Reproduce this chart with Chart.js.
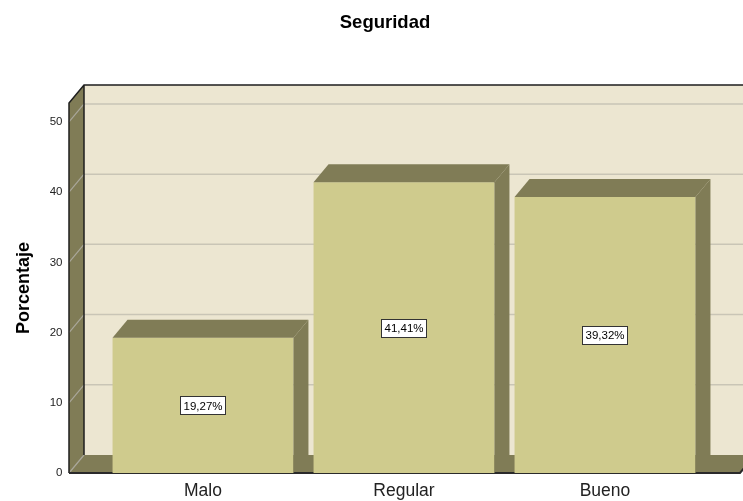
<!DOCTYPE html>
<html>
<head>
<meta charset="utf-8">
<script src="https://cdn.jsdelivr.net/npm/chart.js@4/dist/chart.umd.min.js"></script>
<style>
html,body{margin:0;padding:0;background:#ffffff;}
#wrap{width:743px;height:501px;position:relative;}
canvas{display:block;}
</style>
</head>
<body>
<div id="wrap"><canvas id="c" width="743" height="501"></canvas></div>
<script>
const categories = ['Malo', 'Regular', 'Bueno'];
const percentages = [19.27, 41.41, 39.32];
const valueLabels = ['19,27%', '41,41%', '39,32%'];
const yTickValues = [0, 10, 20, 30, 40, 50];
const chartTitle = 'Seguridad';
const yAxisTitle = 'Porcentaje';

const FONT = "'Liberation Sans', Arial, Helvetica, sans-serif";
const COL_WALL = '#ECE6D1';
const COL_DARK = '#807C56';
const COL_BAR = '#CFCB8D';
const COL_GRID = '#C9C5B6';
const DX = 15, DY = -18;
const SIDE_MARGIN = 33.5;

Chart.defaults.font.family = FONT;

const box3d = {
  id: 'box3d',
  beforeDatasetsDraw(chart) {
    const ctx = chart.ctx;
    const a = chart.chartArea;
    const ys = chart.scales.y;
    const L = a.left - SIDE_MARGIN;
    const R = a.right + SIDE_MARGIN + 1;
    const W = chart.width + 30;
    const top = a.top, bot = a.bottom;
    ctx.save();
    ctx.fillStyle = COL_WALL;
    ctx.fillRect(L + DX, top + DY, W - (L + DX), bot - top);
    ctx.strokeStyle = COL_GRID;
    ctx.lineWidth = 1.5;
    yTickValues.forEach(v => {
      if (v === 0) return;
      const y = ys.getPixelForValue(v) + DY;
      ctx.beginPath();
      ctx.moveTo(L + DX, y);
      ctx.lineTo(W, y);
      ctx.stroke();
    });
    ctx.fillStyle = COL_DARK;
    ctx.beginPath();
    ctx.moveTo(L, top);
    ctx.lineTo(L + DX, top + DY);
    ctx.lineTo(L + DX, bot + DY);
    ctx.lineTo(L, bot);
    ctx.closePath();
    ctx.fill();
    ctx.beginPath();
    ctx.moveTo(L, bot);
    ctx.lineTo(L + DX, bot + DY);
    ctx.lineTo(R + DX, bot + DY);
    ctx.lineTo(R, bot);
    ctx.closePath();
    ctx.fill();
    ctx.strokeStyle = '#A9A79A';
    ctx.lineWidth = 1.2;
    yTickValues.forEach(v => {
      const y = ys.getPixelForValue(v);
      ctx.beginPath();
      ctx.moveTo(L, y);
      ctx.lineTo(L + DX, y + DY);
      ctx.stroke();
    });
    ctx.strokeStyle = '#1E1E1E';
    ctx.lineWidth = 1.5;
    ctx.beginPath();
    ctx.moveTo(L, bot);
    ctx.lineTo(L, top);
    ctx.lineTo(L + DX, top + DY);
    ctx.lineTo(W, top + DY);
    ctx.moveTo(L + DX, top + DY);
    ctx.lineTo(L + DX, bot + DY);
    ctx.stroke();
    ctx.lineWidth = 2;
    ctx.strokeStyle = '#2A2A2A';
    ctx.beginPath();
    ctx.moveTo(L, bot);
    ctx.lineTo(R, bot);
    ctx.lineTo(R + DX, bot + DY);
    ctx.stroke();
    ctx.restore();
  },
  afterDatasetsDraw(chart) {
    const ctx = chart.ctx;
    const meta = chart.getDatasetMeta(0);
    ctx.save();
    meta.data.forEach((bar, i) => {
      const p = bar.getProps(['x', 'y', 'base', 'width'], true);
      const l = p.x - p.width / 2, r = p.x + p.width / 2;
      ctx.fillStyle = COL_DARK;
      ctx.beginPath();
      ctx.moveTo(l, p.y);
      ctx.lineTo(l + DX, p.y + DY);
      ctx.lineTo(r + DX, p.y + DY);
      ctx.lineTo(r, p.y);
      ctx.closePath();
      ctx.fill();
      ctx.beginPath();
      ctx.moveTo(r, p.y);
      ctx.lineTo(r + DX, p.y + DY);
      ctx.lineTo(r + DX, p.base + DY);
      ctx.lineTo(r, p.base);
      ctx.closePath();
      ctx.fill();
      const txt = valueLabels[i];
      ctx.font = '11.5px ' + FONT;
      const tw = ctx.measureText(txt).width;
      const cx = p.x, cy = (p.y + p.base) / 2;
      const bw = tw + 6, bh = 18;
      ctx.fillStyle = '#FFFFFF';
      ctx.fillRect(Math.round(cx - bw / 2) + 0.5, Math.round(cy - bh / 2) + 0.5, Math.round(bw), bh);
      ctx.strokeStyle = '#333333';
      ctx.lineWidth = 1;
      ctx.strokeRect(Math.round(cx - bw / 2) + 0.5, Math.round(cy - bh / 2) + 0.5, Math.round(bw), bh);
      ctx.fillStyle = '#000000';
      ctx.textAlign = 'center';
      ctx.textBaseline = 'middle';
      ctx.fillText(txt, cx, cy + 1);
    });
    ctx.restore();
  },
  afterDraw(chart) {
    const ctx = chart.ctx;
    ctx.save();
    ctx.font = 'bold 18.5px ' + FONT;
    ctx.fillStyle = '#000000';
    ctx.textAlign = 'center';
    ctx.textBaseline = 'middle';
    ctx.fillText(chartTitle, 385, 23);
    ctx.restore();
  }
};

new Chart(document.getElementById('c'), {
  type: 'bar',
  data: {
    labels: categories,
    datasets: [{
      data: percentages,
      backgroundColor: COL_BAR,
      borderWidth: 0,
      barPercentage: 0.9,
      categoryPercentage: 1.0
    }]
  },
  options: {
    responsive: false,
    animation: false,
    devicePixelRatio: 1,
    layout: { padding: { top: 103, right: 37.5, bottom: 0, left: 0 } },
    plugins: { legend: { display: false }, tooltip: { enabled: false }, title: { display: false } },
    scales: {
      x: {
        grid: { display: false, drawTicks: false },
        border: { display: false },
        ticks: { font: { size: 17.5 }, color: '#222222', padding: 8, maxRotation: 0 },
        afterFit(scale) { scale.height = 28; }
      },
      y: {
        min: 0,
        max: 52.7,
        grid: { display: false, drawTicks: false },
        border: { display: false },
        ticks: { stepSize: 10, includeBounds: false, font: { size: 11.5 }, color: '#222222', padding: 40 },
        title: { display: true, text: yAxisTitle, font: { size: 18, weight: 'bold' }, color: '#000000', padding: { top: 13, bottom: 0 } },
        afterFit(scale) {
          scale.width = 102.5;
          scale.paddingTop = 0;
          scale.paddingBottom = 0;
        }
      }
    }
  },
  plugins: [box3d]
});
</script>
</body>
</html>
